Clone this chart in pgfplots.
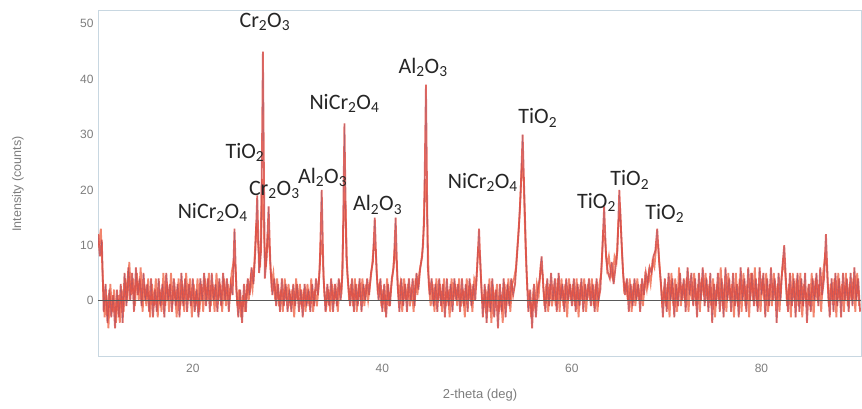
\documentclass[border=0pt]{standalone}
\usepackage{fontspec}
\setmainfont{Carlito}
\newfontfamily\arial{Liberation Sans}
\usepackage{pgfplots}
\usepackage{pgfplotstable}
\pgfplotsset{compat=1.18}

\definecolor{xrdred}{RGB}{230,78,64}
\definecolor{xrdorange}{RGB}{240,112,84}
\definecolor{xrddark}{RGB}{110,90,140}
\definecolor{frame}{RGB}{200,215,225}
\definecolor{ticktxt}{RGB}{125,125,125}

% 2-theta (deg), intensity (counts): even steps
\pgfplotstableread[row sep=\\]{
x y\\
10.0 12\\ 10.2 8\\ 10.4 11\\ 10.6 -2\\ 10.8 3\\ 11.0 -4\\ 11.2 2\\ 11.4 -3\\ 11.6 1\\ 11.8 -5\\
12.0 2\\ 12.2 -3\\ 12.4 3\\ 12.6 -4\\ 12.8 5\\ 13.0 -1\\ 13.2 6\\ 13.4 0\\ 13.6 5\\ 13.8 -2\\
14.0 6\\ 14.2 1\\ 14.4 4\\ 14.6 -1\\ 14.8 5\\ 15.0 0\\ 15.2 3\\ 15.4 -2\\ 15.6 4\\ 15.8 -3\\
16.0 2\\ 16.2 -2\\ 16.4 4\\ 16.6 -1\\ 16.8 3\\ 17.0 -3\\ 17.2 5\\ 17.4 0\\ 17.6 3\\ 17.8 -2\\
18.0 4\\ 18.2 -1\\ 18.4 3\\ 18.6 -3\\ 18.8 5\\ 19.0 -1\\ 19.2 4\\ 19.4 -2\\ 19.6 3\\ 19.8 -1\\
20.0 4\\ 20.2 -2\\ 20.4 2\\ 20.6 -3\\ 20.8 4\\ 21.0 0\\ 21.2 5\\ 21.4 -1\\ 21.6 4\\ 21.8 -2\\
22.0 5\\ 22.2 0\\ 22.4 3\\ 22.6 -2\\ 22.8 4\\ 23.0 -1\\ 23.2 5\\ 23.4 0\\ 23.6 4\\ 23.8 -2\\
24.0 3\\ 24.2 1\\ 24.4 13\\ 24.6 2\\ 24.8 -3\\ 25.0 2\\ 25.2 -4\\ 25.4 3\\ 25.6 -2\\ 25.8 4\\
26.0 1\\ 26.2 6\\ 26.4 3\\ 26.6 9\\ 26.8 19\\ 27.0 5\\ 27.2 9\\ 27.4 45\\ 27.6 4\\ 27.8 8\\
28.0 17\\ 28.2 6\\ 28.4 1\\ 28.6 4\\ 28.8 -1\\ 29.0 3\\ 29.2 -2\\ 29.4 4\\ 29.6 -1\\ 29.8 3\\
30.0 -2\\ 30.2 2\\ 30.4 -2\\ 30.6 3\\ 30.8 -1\\ 31.0 3\\ 31.2 -2\\ 31.4 2\\ 31.6 -3\\ 31.8 3\\
32.0 -1\\ 32.2 2\\ 32.4 -2\\ 32.6 3\\ 32.8 -1\\ 33.0 4\\ 33.2 1\\ 33.4 6\\ 33.6 20\\ 33.8 4\\
34.0 -2\\ 34.2 3\\ 34.4 -1\\ 34.6 4\\ 34.8 -2\\ 35.0 3\\ 35.2 -1\\ 35.4 4\\ 35.6 0\\ 35.8 5\\
36.0 32\\ 36.2 8\\ 36.4 3\\ 36.6 -1\\ 36.8 4\\ 37.0 -2\\ 37.2 3\\ 37.4 -1\\ 37.6 4\\ 37.8 -2\\
38.0 3\\ 38.2 0\\ 38.4 4\\ 38.6 1\\ 38.8 5\\ 39.0 7\\ 39.2 15\\ 39.4 5\\ 39.6 0\\ 39.8 4\\
40.0 -2\\ 40.2 3\\ 40.4 -3\\ 40.6 3\\ 40.8 -1\\ 41.0 4\\ 41.2 6\\ 41.4 15\\ 41.6 3\\ 41.8 -2\\
42.0 4\\ 42.2 -1\\ 42.4 3\\ 42.6 -2\\ 42.8 4\\ 43.0 0\\ 43.2 4\\ 43.4 -1\\ 43.6 5\\ 43.8 2\\
44.0 6\\ 44.2 8\\ 44.4 14\\ 44.6 39\\ 44.8 6\\ 45.0 1\\ 45.2 4\\ 45.4 -1\\ 45.6 3\\ 45.8 -2\\
46.0 4\\ 46.2 -1\\ 46.4 3\\ 46.6 -3\\ 46.8 4\\ 47.0 -1\\ 47.2 3\\ 47.4 -2\\ 47.6 4\\ 47.8 0\\
48.0 3\\ 48.2 -2\\ 48.4 4\\ 48.6 -1\\ 48.8 3\\ 49.0 -2\\ 49.2 4\\ 49.4 -1\\ 49.6 3\\ 49.8 0\\
50.0 6\\ 50.2 13\\ 50.4 4\\ 50.6 -3\\ 50.8 3\\ 51.0 -4\\ 51.2 3\\ 51.4 -2\\ 51.6 4\\ 51.8 -3\\
52.0 2\\ 52.2 -5\\ 52.4 3\\ 52.6 -2\\ 52.8 4\\ 53.0 -3\\ 53.2 3\\ 53.4 -1\\ 53.6 4\\ 53.8 1\\
54.0 3\\ 54.2 8\\ 54.4 13\\ 54.6 20\\ 54.8 30\\ 55.0 18\\ 55.2 6\\ 55.4 -2\\ 55.6 2\\ 55.8 -5\\
56.0 3\\ 56.2 -3\\ 56.4 2\\ 56.6 4\\ 56.8 8\\ 57.0 2\\ 57.2 -2\\ 57.4 4\\ 57.6 -1\\ 57.8 5\\
58.0 0\\ 58.2 4\\ 58.4 -2\\ 58.6 5\\ 58.8 0\\ 59.0 3\\ 59.2 -2\\ 59.4 4\\ 59.6 0\\ 59.8 3\\
60.0 -1\\ 60.2 4\\ 60.4 -2\\ 60.6 3\\ 60.8 -1\\ 61.0 4\\ 61.2 -2\\ 61.4 3\\ 61.6 0\\ 61.8 4\\
62.0 -1\\ 62.2 3\\ 62.4 -2\\ 62.6 4\\ 62.8 0\\ 63.0 2\\ 63.2 9\\ 63.4 17\\ 63.6 8\\ 63.8 5\\
64.0 4\\ 64.2 7\\ 64.4 3\\ 64.6 6\\ 64.8 9\\ 65.0 20\\ 65.2 12\\ 65.4 5\\ 65.6 1\\ 65.8 4\\
66.0 -2\\ 66.2 3\\ 66.4 -1\\ 66.6 4\\ 66.8 0\\ 67.0 3\\ 67.2 -2\\ 67.4 4\\ 67.6 1\\ 67.8 5\\
68.0 3\\ 68.2 6\\ 68.4 5\\ 68.6 8\\ 68.8 9\\ 69.0 13\\ 69.2 7\\ 69.4 3\\ 69.6 -3\\ 69.8 4\\
70.0 -2\\ 70.2 5\\ 70.4 0\\ 70.6 4\\ 70.8 -3\\ 71.0 3\\ 71.2 -1\\ 71.4 5\\ 71.6 0\\ 71.8 4\\
72.0 -2\\ 72.2 6\\ 72.4 1\\ 72.6 5\\ 72.8 -1\\ 73.0 4\\ 73.2 -3\\ 73.4 5\\ 73.6 0\\ 73.8 6\\
74.0 -1\\ 74.2 4\\ 74.4 -2\\ 74.6 5\\ 74.8 -4\\ 75.0 3\\ 75.2 -1\\ 75.4 5\\ 75.6 -2\\ 75.8 4\\
76.0 -3\\ 76.2 6\\ 76.4 0\\ 76.6 4\\ 76.8 -2\\ 77.0 5\\ 77.2 -1\\ 77.4 3\\ 77.6 -3\\ 77.8 6\\
78.0 0\\ 78.2 4\\ 78.4 -2\\ 78.6 6\\ 78.8 0\\ 79.0 5\\ 79.2 -1\\ 79.4 4\\ 79.6 -2\\ 79.8 6\\
80.0 1\\ 80.2 5\\ 80.4 -3\\ 80.6 4\\ 80.8 -1\\ 81.0 6\\ 81.2 0\\ 81.4 4\\ 81.6 -4\\ 81.8 5\\
82.0 0\\ 82.2 6\\ 82.4 10\\ 82.6 3\\ 82.8 -2\\ 83.0 5\\ 83.2 -1\\ 83.4 4\\ 83.6 -3\\ 83.8 5\\
84.0 -2\\ 84.2 4\\ 84.4 -1\\ 84.6 5\\ 84.8 -4\\ 85.0 3\\ 85.2 -2\\ 85.4 4\\ 85.6 0\\ 85.8 5\\
86.0 -1\\ 86.2 6\\ 86.4 1\\ 86.6 4\\ 86.8 12\\ 87.0 3\\ 87.2 -3\\ 87.4 4\\ 87.6 -2\\ 87.8 5\\
88.0 -1\\ 88.2 4\\ 88.4 -3\\ 88.6 5\\ 88.8 0\\ 89.0 4\\ 89.2 -2\\ 89.4 5\\ 89.6 -1\\ 89.8 6\\
90.0 0\\ 90.2 4\\ 90.4 -2\\
}\xrd

% odd steps (second scan)
\pgfplotstableread[row sep=\\]{
x y\\
10.1 10\\ 10.3 13\\ 10.5 4\\ 10.7 -3\\ 10.9 1\\ 11.1 -5\\ 11.3 3\\ 11.5 -2\\ 11.7 2\\ 11.9 -4\\
12.1 1\\ 12.3 -4\\ 12.5 2\\ 12.7 -2\\ 12.9 4\\ 13.1 0\\ 13.3 7\\ 13.5 1\\ 13.7 4\\ 13.9 -1\\
14.1 5\\ 14.3 0\\ 14.5 6\\ 14.7 -2\\ 14.9 3\\ 15.1 -1\\ 15.3 4\\ 15.5 -3\\ 15.7 3\\ 15.9 -1\\
16.1 4\\ 16.3 -3\\ 16.5 2\\ 16.7 -2\\ 16.9 5\\ 17.1 -1\\ 17.3 3\\ 17.5 -2\\ 17.7 5\\ 17.9 0\\
18.1 2\\ 18.3 -3\\ 18.5 4\\ 18.7 -1\\ 18.9 3\\ 19.1 -2\\ 19.3 5\\ 19.5 0\\ 19.7 4\\ 19.9 -3\\
20.1 3\\ 20.3 -1\\ 20.5 4\\ 20.7 -2\\ 20.9 3\\ 21.1 -2\\ 21.3 4\\ 21.5 0\\ 21.7 5\\ 21.9 -1\\
22.1 3\\ 22.3 -2\\ 22.5 5\\ 22.7 0\\ 22.9 3\\ 23.1 -2\\ 23.3 4\\ 23.5 -1\\ 23.7 3\\ 23.9 0\\
24.1 5\\ 24.3 7\\ 24.5 6\\ 24.7 -1\\ 24.9 2\\ 25.1 -3\\ 25.3 1\\ 25.5 -2\\ 25.7 3\\ 25.9 0\\
26.1 4\\ 26.3 2\\ 26.5 7\\ 26.7 14\\ 26.9 10\\ 27.1 6\\ 27.3 22\\ 27.5 12\\ 27.7 6\\ 27.9 12\\
28.1 9\\ 28.3 3\\ 28.5 5\\ 28.7 0\\ 28.9 4\\ 29.1 -1\\ 29.3 2\\ 29.5 -2\\ 29.7 4\\ 29.9 0\\
30.1 3\\ 30.3 -1\\ 30.5 2\\ 30.7 -3\\ 30.9 4\\ 31.1 0\\ 31.3 3\\ 31.5 -1\\ 31.7 2\\ 31.9 -2\\
32.1 3\\ 32.3 -1\\ 32.5 4\\ 32.7 -2\\ 32.9 2\\ 33.1 -1\\ 33.3 3\\ 33.5 11\\ 33.7 8\\ 33.9 1\\
34.1 -1\\ 34.3 2\\ 34.5 -2\\ 34.7 3\\ 34.9 0\\ 35.1 2\\ 35.3 -2\\ 35.5 3\\ 35.7 2\\ 35.9 14\\
36.1 18\\ 36.3 5\\ 36.5 0\\ 36.7 3\\ 36.9 -1\\ 37.1 4\\ 37.3 -2\\ 37.5 3\\ 37.7 0\\ 37.9 4\\
38.1 -1\\ 38.3 3\\ 38.5 0\\ 38.7 3\\ 38.9 6\\ 39.1 10\\ 39.3 9\\ 39.5 2\\ 39.7 3\\ 39.9 -1\\
40.1 2\\ 40.3 -2\\ 40.5 4\\ 40.7 -1\\ 40.9 2\\ 41.1 5\\ 41.3 9\\ 41.5 7\\ 41.7 1\\ 41.9 3\\
42.1 -2\\ 42.3 4\\ 42.5 0\\ 42.7 3\\ 42.9 -1\\ 43.1 2\\ 43.3 -2\\ 43.5 4\\ 43.7 1\\ 43.9 5\\
44.1 7\\ 44.3 10\\ 44.5 22\\ 44.7 17\\ 44.9 3\\ 45.1 -1\\ 45.3 3\\ 45.5 -2\\ 45.7 4\\ 45.9 0\\
46.1 3\\ 46.3 -2\\ 46.5 4\\ 46.7 -1\\ 46.9 2\\ 47.1 -3\\ 47.3 4\\ 47.5 0\\ 47.7 3\\ 47.9 -1\\
48.1 4\\ 48.3 -1\\ 48.5 2\\ 48.7 -3\\ 48.9 4\\ 49.1 0\\ 49.3 3\\ 49.5 -2\\ 49.7 4\\ 49.9 3\\
50.1 9\\ 50.3 8\\ 50.5 1\\ 50.7 -1\\ 50.9 2\\ 51.1 -2\\ 51.3 4\\ 51.5 -4\\ 51.7 2\\ 51.9 0\\
52.1 3\\ 52.3 -2\\ 52.5 1\\ 52.7 -4\\ 52.9 3\\ 53.1 -1\\ 53.3 4\\ 53.5 -2\\ 53.7 3\\ 53.9 4\\
54.1 6\\ 54.3 11\\ 54.5 16\\ 54.7 24\\ 54.9 22\\ 55.1 10\\ 55.3 2\\ 55.5 1\\ 55.7 -3\\ 55.9 1\\
56.1 -1\\ 56.3 3\\ 56.5 1\\ 56.7 6\\ 56.9 5\\ 57.1 -1\\ 57.3 3\\ 57.5 -2\\ 57.7 3\\ 57.9 -1\\
58.1 2\\ 58.3 -1\\ 58.5 4\\ 58.7 -2\\ 58.9 4\\ 59.1 -1\\ 59.3 3\\ 59.5 -3\\ 59.7 4\\ 59.9 0\\
60.1 3\\ 60.3 -1\\ 60.5 4\\ 60.7 -3\\ 60.9 3\\ 61.1 0\\ 61.3 4\\ 61.5 -2\\ 61.7 3\\ 61.9 0\\
62.1 4\\ 62.3 -1\\ 62.5 3\\ 62.7 -2\\ 62.9 3\\ 63.1 5\\ 63.3 12\\ 63.5 11\\ 63.7 6\\ 63.9 8\\
64.1 5\\ 64.3 4\\ 64.5 8\\ 64.7 7\\ 64.9 14\\ 65.1 16\\ 65.3 8\\ 65.5 2\\ 65.7 3\\ 65.9 0\\
66.1 4\\ 66.3 -2\\ 66.5 3\\ 66.7 -1\\ 66.9 4\\ 67.1 0\\ 67.3 3\\ 67.5 -1\\ 67.7 4\\ 67.9 2\\
68.1 5\\ 68.3 3\\ 68.5 7\\ 68.7 6\\ 68.9 10\\ 69.1 10\\ 69.3 5\\ 69.5 0\\ 69.7 2\\ 69.9 -1\\
70.1 3\\ 70.3 -3\\ 70.5 5\\ 70.7 -1\\ 70.9 4\\ 71.1 -2\\ 71.3 6\\ 71.5 -1\\ 71.7 3\\ 71.9 0\\
72.1 4\\ 72.3 -2\\ 72.5 3\\ 72.7 0\\ 72.9 5\\ 73.1 -1\\ 73.3 3\\ 73.5 -2\\ 73.7 4\\ 73.9 1\\
74.1 5\\ 74.3 0\\ 74.5 3\\ 74.7 -1\\ 74.9 4\\ 75.1 -3\\ 75.3 3\\ 75.5 0\\ 75.7 6\\ 75.9 -1\\
76.1 3\\ 76.3 -2\\ 76.5 5\\ 76.7 0\\ 76.9 3\\ 77.1 -3\\ 77.3 5\\ 77.5 -1\\ 77.7 4\\ 77.9 -2\\
78.1 5\\ 78.3 -1\\ 78.5 3\\ 78.7 -3\\ 78.9 5\\ 79.1 0\\ 79.3 6\\ 79.5 -1\\ 79.7 3\\ 79.9 -2\\
80.1 4\\ 80.3 0\\ 80.5 5\\ 80.7 -2\\ 80.9 3\\ 81.1 -1\\ 81.3 5\\ 81.5 0\\ 81.7 3\\ 81.9 -2\\
82.1 4\\ 82.3 7\\ 82.5 5\\ 82.7 -1\\ 82.9 3\\ 83.1 -3\\ 83.3 5\\ 83.5 0\\ 83.7 4\\ 83.9 -1\\
84.1 5\\ 84.3 -3\\ 84.5 3\\ 84.7 0\\ 84.9 2\\ 85.1 -1\\ 85.3 5\\ 85.5 -3\\ 85.7 4\\ 85.9 0\\
86.1 3\\ 86.3 -2\\ 86.5 5\\ 86.7 8\\ 86.9 6\\ 87.1 -1\\ 87.3 3\\ 87.5 0\\ 87.7 4\\ 87.9 -3\\
88.1 5\\ 88.3 0\\ 88.5 3\\ 88.7 -2\\ 88.9 5\\ 89.1 -1\\ 89.3 3\\ 89.5 0\\ 89.7 4\\ 89.9 -2\\
90.1 5\\ 90.3 -1\\
}\xrdb

\begin{document}
\begin{tikzpicture}
\useasboundingbox (0,0) rectangle (862pt,409pt);
\begin{axis}[
  at={(98pt,53pt)}, anchor=south west,
  scale only axis,
  width=763pt, height=346pt,
  xmin=10, xmax=90.5,
  ymin=-10, ymax=52.5,
  xtick={20,40,60,80},
  ytick={0,10,20,30,40,50},
  major tick length=0pt,
  axis line style={frame, line width=0.6pt},
  tick label style={font=\arial\fontsize{12}{14}\selectfont, text=ticktxt},
  /pgf/number format/assume math mode=true,
  xticklabel style={yshift=-5pt},
  yticklabel style={xshift=-1pt},
  clip=true,
]
\addplot[xrdorange, line width=1.8pt, opacity=0.85] table {\xrdb};
\addplot[xrdred, line width=1.8pt, opacity=0.85] table {\xrd};
\addplot[xrddark, line width=0.35pt, opacity=0.5] table {\xrd};
\addplot[black!65, line width=0.6pt] coordinates {(10,0) (90.5,0)};

\begin{scope}[every node/.style={font=\fontsize{22}{26}\selectfont, text=black!85, inner sep=0pt}]
\node at (axis cs:27.6,50.4) {Cr\textsubscript{2}O\textsubscript{3}};
\node at (axis cs:25.5,26.7) {TiO\textsubscript{2}};
\node at (axis cs:28.6,20.0) {Cr\textsubscript{2}O\textsubscript{3}};
\node at (axis cs:22.1,15.9) {NiCr\textsubscript{2}O\textsubscript{4}};
\node at (axis cs:33.7,22.2) {Al\textsubscript{2}O\textsubscript{3}};
\node at (axis cs:36.0,35.7) {NiCr\textsubscript{2}O\textsubscript{4}};
\node at (axis cs:39.5,17.3) {Al\textsubscript{2}O\textsubscript{3}};
\node at (axis cs:44.3,42.1) {Al\textsubscript{2}O\textsubscript{3}};
\node at (axis cs:50.6,21.3) {NiCr\textsubscript{2}O\textsubscript{4}};
\node at (axis cs:56.4,33.0) {TiO\textsubscript{2}};
\node at (axis cs:62.6,17.7) {TiO\textsubscript{2}};
\node at (axis cs:66.1,21.8) {TiO\textsubscript{2}};
\node at (axis cs:69.8,15.7) {TiO\textsubscript{2}};
\end{scope}
\end{axis}
\node[rotate=90, font=\arial\fontsize{12.5}{14}\selectfont, text=ticktxt] at (18pt,225pt) {Intensity (counts)};
\node[font=\arial\fontsize{13}{15}\selectfont, text=ticktxt] at (480pt,14pt) {2-theta (deg)};
\end{tikzpicture}
\end{document}
